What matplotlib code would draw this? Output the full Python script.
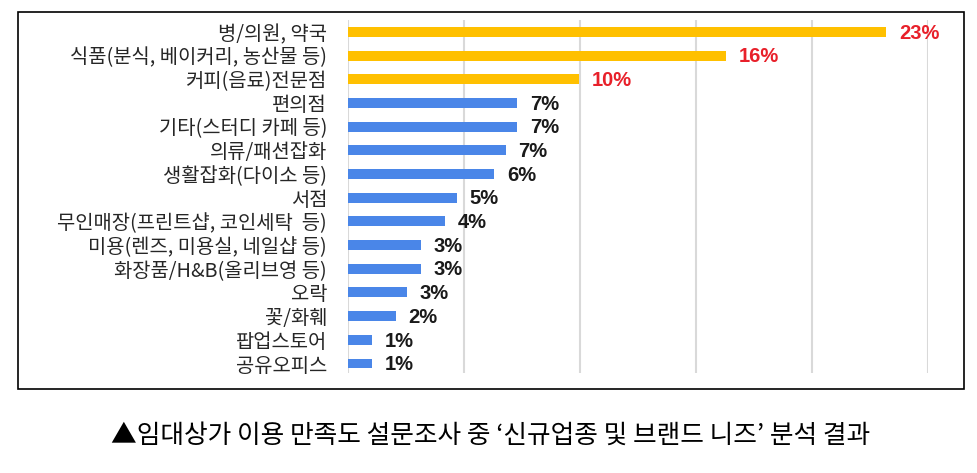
import matplotlib
matplotlib.use('Agg')
import matplotlib.pyplot as plt
from matplotlib.patches import Rectangle

plt.rcParams['font.family'] = ['Noto Sans CJK KR', 'DejaVu Sans']

categories = ['병/의원, 약국', '식품(분식, 베이커리, 농산물 등)', '커피(음료)전문점', '편의점',
              '기타(스터디 카페 등)', '의류/패션잡화', '생활잡화(다이소 등)', '서점',
              '무인매장(프린트샵, 코인세탁  등)', '미용(렌즈, 미용실, 네일샵 등)',
              '화장품/H&B(올리브영 등)', '오락', '꽃/화훼', '팝업스토어', '공유오피스']
values = [23.2, 16.3, 9.96, 7.3, 7.3, 6.8, 6.3, 4.7, 4.2, 3.15, 3.15, 2.55, 2.05, 1.03, 1.03]
labels = ['23%', '16%', '10%', '7%', '7%', '7%', '6%', '5%', '4%', '3%', '3%', '3%', '2%', '1%', '1%']
highlight = [True, True, True] + [False] * 12

fig = plt.figure(figsize=(9.77, 4.73), dpi=100)
ax = fig.add_axes([348 / 977, 1 - 373 / 473, 580 / 977, 353 / 473])

ypos = list(range(len(categories)))
colors = ['#FFC000' if h else '#4A86E8' for h in highlight]
ax.barh(ypos, values, height=0.42, color=colors, zorder=3)

for y, v, lab, h in zip(ypos, values, labels, highlight):
    ax.text(v + 0.55, y + 0.05, lab, va='center', ha='left', fontsize=14.5, fontweight='bold',
            family=['Liberation Sans'], color='#E8202A' if h else '#1a1a1a', zorder=4)

ax.set_xlim(0, 25)
ax.set_ylim(len(categories) - 0.6, -0.5)
ax.set_xticks([0, 5, 10, 15, 20, 25])
ax.xaxis.grid(True, color='#D9D9D9', linewidth=1.5, zorder=0)
ax.tick_params(axis='x', length=0, labelbottom=False)
ax.tick_params(axis='y', length=0, pad=15)
ax.set_yticks(ypos)
ax.set_yticklabels(categories, fontsize=14.3, color='#262626')
for s in ax.spines.values():
    s.set_visible(False)

# frame around chart
fig.add_artist(Rectangle((18 / 977, 1 - 389 / 473), 946 / 977, 377 / 473,
                         transform=fig.transFigure, fill=False, edgecolor='black', linewidth=1.2))

fig.text(491 / 977, 1 - 436 / 473,
         "▲임대상가 이용 만족도 설문조사 중 \u2018신규업종 및 브랜드 니즈\u2019 분석 결과",
         ha='center', va='center', fontsize=18.5, color='black')

fig.savefig('out.png', dpi=100)
